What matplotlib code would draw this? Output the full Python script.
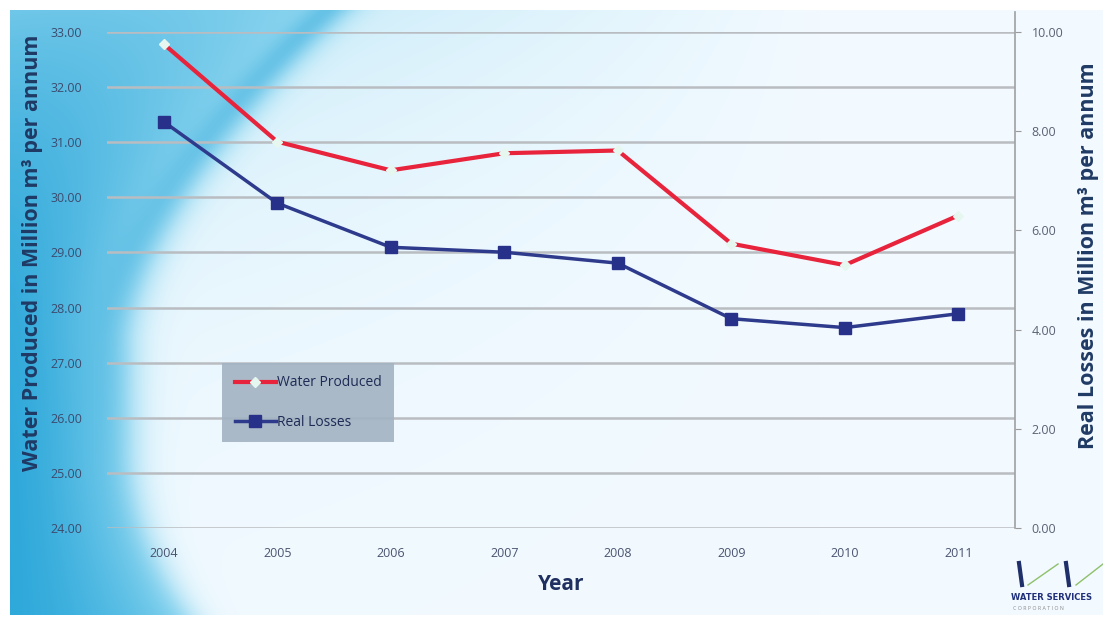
import numpy as np
import matplotlib.pyplot as plt
from matplotlib.lines import Line2D

# Data
years = ['2004', '2005', '2006', '2007', '2008', '2009', '2010', '2011']
water_produced = [32.78, 31.01, 30.49, 30.80, 30.85, 29.16, 28.77, 29.67]
real_losses = [8.19, 6.55, 5.66, 5.56, 5.34, 4.22, 4.04, 4.32]

left_ticks = [24, 25, 26, 27, 28, 29, 30, 31, 32, 33]
right_ticks = [0, 2, 4, 6, 8, 10]

plt.rcParams['font.family'] = ['Open Sans', 'DejaVu Sans']

W, H = 1103, 620
fig = plt.figure(figsize=(W / 100, H / 100), dpi=100)

# background panel: cyan swoosh on the left fading into white
yy, xx = np.mgrid[0:H, 0:W].astype(float)
white = np.array([0.95, 0.98, 1.0])
deep = np.array([0.13, 0.63, 0.84])
mid = np.array([0.30, 0.74, 0.90])
pale = np.array([0.60, 0.86, 0.95])

edge = (135 + 230 * np.clip(1 - yy / 340, 0, 1) ** 1.6
        + 60 * np.clip((yy - 450) / 170, 0, 1) ** 2)
inside = 1 / (1 + np.exp(-(edge - xx) / 10))
t = np.clip((xx - 10) / np.maximum(edge - 10, 1), 0, 1) ** 1.5
cyan = deep * (1 - t)[..., None] + pale * t[..., None]
cyan = cyan * (1 - 0.25 * (yy / H))[..., None] + mid * (0.25 * (yy / H))[..., None]

streak = np.exp(-((xx - (edge - 28)) / 20) ** 2) * np.clip(1 - yy / 600, 0, 1) * 0.4
haze = np.exp(-yy / 190) * np.clip(1 - xx / 820, 0, 1) * 0.7

img = white * (1 - inside)[..., None] + cyan * inside[..., None]
img = img * (1 - haze)[..., None] + pale * haze[..., None]
img = img * (1 - streak)[..., None] + deep * streak[..., None]
img[(xx < 10) | (yy < 10) | (yy > 614)] = 1.0

bg = fig.add_axes([0, 0, 1, 1], zorder=-10)
bg.imshow(img, aspect='auto', extent=[0, W, H, 0])
bg.set_xlim(0, W)
bg.set_ylim(H, 0)
bg.axis('off')

# plot area
ax = fig.add_axes([107 / W, 1 - 528 / H, (1015 - 107) / W, (528 - 32) / H])
ax.set_facecolor('none')
x = np.arange(len(years))

ax.set_xlim(-0.5, len(years) - 0.5)
ax.set_ylim(24, 33)
ax.set_yticks(left_ticks)
ax.set_yticklabels([f'{t:.2f}' for t in left_ticks], fontsize=9, color='#3d4b6e')
ax.set_xticks(x)
ax.set_xticklabels(years, fontsize=9, color='#4a5470')
ax.tick_params(axis='y', length=0, pad=18)
ax.tick_params(axis='x', length=0, pad=14)
ax.grid(axis='y', color='#b9bdc1', linewidth=1.8)
ax.set_axisbelow(True)
for s in ax.spines.values():
    s.set_visible(False)

ax.set_ylabel('Water Produced in Million m³ per annum', fontsize=15.5,
              fontweight='bold', color='#1f3a64', va='center')
ax.yaxis.set_label_coords(-0.082, 0.555)
ax.set_xlabel('Year', fontsize=15, fontweight='bold', color='#1f2f5f', labelpad=10)

ax2 = ax.twinx()
ax2.set_ylim(0, 10)
ax2.set_yticks(right_ticks)
ax2.set_yticklabels([f'{t:.2f}' for t in right_ticks], fontsize=9, color='#5a6274')
ax2.tick_params(axis='y', length=4, width=0.8, color='#9a9a9a', pad=8)
for k in ['top', 'left', 'bottom']:
    ax2.spines[k].set_visible(False)
ax2.spines['right'].set_color('#a0a0a0')
ax2.spines['right'].set_linewidth(1.2)
ax2.spines['right'].set_bounds(0, 10.4)
ax2.set_ylabel('Real Losses in Million m³ per annum', fontsize=15.5,
               fontweight='bold', color='#1f3a64', va='center')
ax2.yaxis.set_label_coords(1.081, 0.55)

ax.plot(x, water_produced, color='#e8233c', linewidth=3, marker='D', markersize=5,
        markerfacecolor='#e6f7f0', markeredgecolor='#e6f7f0', zorder=5)
ax2.plot(x, real_losses, color='#2e3a8c', linewidth=2.5, marker='s', markersize=8,
         markerfacecolor='#27318a', markeredgecolor='#27318a', zorder=5)

handles = [
    Line2D([], [], color='#e8233c', linewidth=3, marker='D', markersize=5,
           markerfacecolor='#e6f7f0', markeredgecolor='#e6f7f0'),
    Line2D([], [], color='#2e3a8c', linewidth=2.5, marker='s', markersize=8,
           markerfacecolor='#27318a', markeredgecolor='#27318a'),
]
leg = fig.legend(handles, ['Water Produced', 'Real Losses'], loc='upper left',
                 bbox_to_anchor=(222 / W, 1 - 363 / H), fontsize=10, frameon=True,
                 fancybox=False, framealpha=1, facecolor='#a3b3c3', edgecolor='none',
                 labelspacing=1.75, handlelength=3.0, handletextpad=0.05,
                 borderpad=0.9, borderaxespad=0)
for t in leg.get_texts():
    t.set_color('#1f2a55')
leg.get_frame().set_alpha(0.9)

# corner logo
fig.add_artist(Line2D([1019 / W, 1022 / W], [1 - 563 / H, 1 - 585 / H], color='#1f2f6a', linewidth=3))
fig.add_artist(Line2D([1066 / W, 1069 / W], [1 - 563 / H, 1 - 585 / H], color='#1f2f6a', linewidth=3))
fig.add_artist(Line2D([1028 / W, 1058 / W], [1 - 585 / H, 1 - 564 / H], color='#8fc06a', linewidth=1))
fig.add_artist(Line2D([1076 / W, 1103 / W], [1 - 585 / H, 1 - 564 / H], color='#8fc06a', linewidth=1))
fig.text(1011 / W, 1 - 597 / H, 'WATER SERVICES', fontsize=6, fontweight='bold',
         color='#1f2f7a', va='center', ha='left', family=['DejaVu Sans'])
fig.text(1013 / W, 1 - 609 / H, 'C O R P O R A T I O N', fontsize=3.8, color='#8a8a8a',
         va='center', ha='left')

fig.savefig('out.png', dpi=100)
